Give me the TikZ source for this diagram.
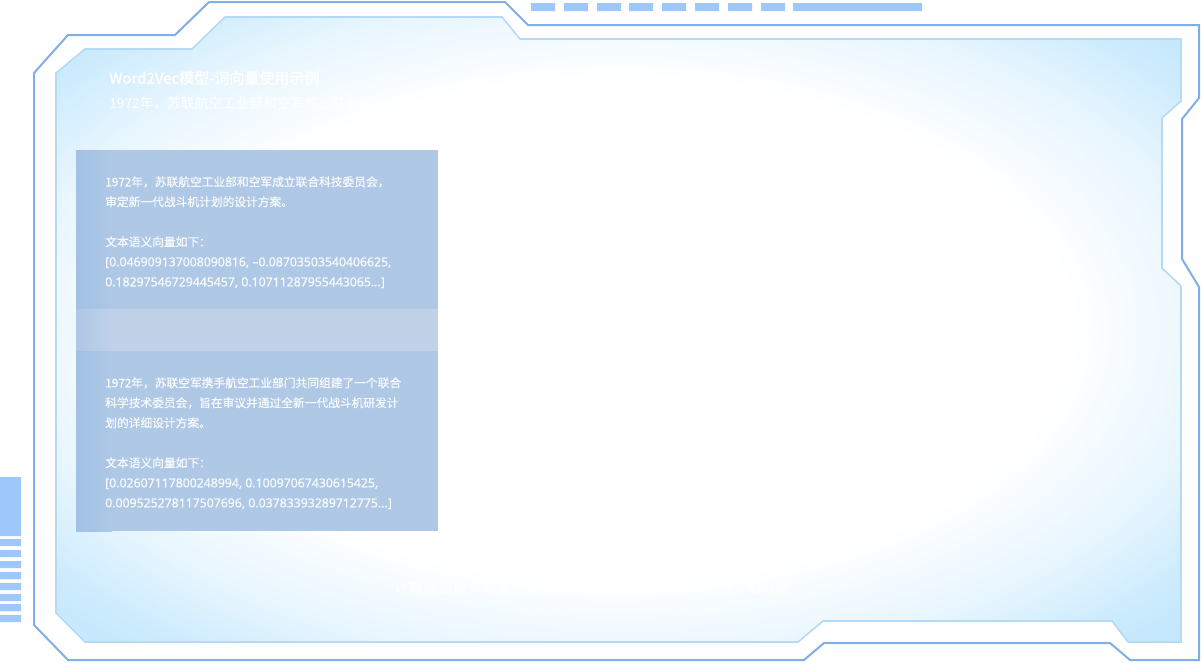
\documentclass[tikz,border=0pt]{standalone}
\usepackage{fontspec}
\setmainfont{Noto Sans CJK SC}
\newfontfamily\titlefont[FakeBold=1.2]{Noto Sans CJK SC}
\newfontfamily\boxfont[FakeBold=0.4]{Noto Sans CJK SC}
\newfontfamily\numfont[FakeBold=0.4]{Noto Sans}
\definecolor{framecol}{HTML}{80AEE6}
\definecolor{panelblue}{HTML}{C2E7FD}
\definecolor{panelline}{HTML}{B5DAF8}
\definecolor{barblue}{HTML}{9EC8FC}
\definecolor{boxblue}{HTML}{AEC8E6}
\definecolor{boxedge}{HTML}{A2C1E4}
\definecolor{bandblue}{HTML}{C0D1E8}
\pgfdeclareradialshading{panelglow}{\pgfpoint{0bp}{0bp}}{color(0bp)=(white); color(20bp)=(white); color(27bp)=(panelblue!40!white); color(32bp)=(panelblue!85!white); color(36bp)=(panelblue); color(50bp)=(panelblue)}

\begin{document}
\begin{tikzpicture}[x=0.75pt,y=-0.75pt]
	\tikzstyle{Frame} = [draw=framecol,line width=1.5pt]
	\tikzstyle{Panel} = [draw=panelline,line width=1.2pt,shading=panelglow]
	\tikzstyle{Bar} = [fill=barblue]
	\tikzstyle{PanelText} = [anchor=west,inner sep=0pt,text=white]
	\tikzstyle{BoxText} = [anchor=north west,inner sep=0pt,align=left,text=white,text opacity=0.9,font=\boxfont\fontsize{8.8}{15}\selectfont]
	\useasboundingbox (0,0) rectangle (1201,662);
	% outer frame
	\draw[Frame] (34,73)--(68,35)--(175,35)--(209,2)--(505,2)--(528,25)--(1199,25)--(1199,98)--(1182,119)--(1182,259)--(1199,287)--(1199,660)--(1130,660)--(1110,643)--(824,643)--(804,660)--(68,660)--(34,625)--cycle;
	% glowing panel
	\shadedraw[Panel] (56,73)--(85,49)--(192,49)--(225,17)--(502,17)--(520,39)--(1181,39)--(1181,101)--(1162,118)--(1162,268)--(1181,286)--(1181,642)--(1128,642)--(1112,621)--(823,621)--(798,642)--(85,642)--(56,613)--cycle;
	% top dashes and side bars
	\fill[Bar] (531,3) rectangle (555,11) (564,3) rectangle (588,11) (597,3) rectangle (621,11) (629,3) rectangle (653,11) (662,3) rectangle (686,11) (695,3) rectangle (719,11) (728,3) rectangle (752,11) (761,3) rectangle (785,11) (793,3) rectangle (922,11);
	\fill[Bar] (0,477) rectangle (21,536) (0,539) rectangle (21,546) (0,550) rectangle (21,557) (0,561) rectangle (21,568) (0,572) rectangle (21,579) (0,583) rectangle (21,590) (0,594) rectangle (21,601) (0,604) rectangle (21,611) (0,615) rectangle (21,622);
	% text boxes
	\fill[boxblue] (76,150) rectangle (438,309);
	\fill[bandblue] (76,309) rectangle (438,351);
	\fill[boxblue] (76,351) rectangle (438,531);
	\shade[left color=boxedge,right color=boxblue] (76,150) rectangle (112,309);
	\shade[left color=boxedge!60!bandblue,right color=bandblue] (76,309) rectangle (112,351);
	\shade[left color=boxedge,right color=boxblue] (76,351) rectangle (112,531);
	\draw (109,78) node[PanelText,font=\titlefont\fontsize{11.25}{13}\selectfont] (title) {Word2Vec模型-词向量使用示例};
	\draw (109,103) node[PanelText,font=\fontsize{10.3}{12}\selectfont] (sentence) {1972年，苏联航空工业部和空军成立联合科技委员会，审定新一代战斗机计划的设计方案。};
	\draw (105,176) node[BoxText] (firstvec) {1972年，苏联航空工业部和空军成立联合科技委员会，\\审定新一代战斗机计划的设计方案。\\[15pt]文本语义向量如下：\\{\numfont\fontsize{9.2}{15}\selectfont [0.046909137008090816, –0.08703503540406625,}\\{\numfont\fontsize{9.2}{15}\selectfont 0.18297546729445457, 0.10711287955443065...]}};
	\draw (105,377) node[BoxText] (secondvec) {1972年，苏联空军携手航空工业部门共同组建了一个联合\\科学技术委员会，旨在审议并通过全新一代战斗机研发计\\划的详细设计方案。\\[15pt]文本语义向量如下：\\{\numfont\fontsize{9.2}{15}\selectfont [0.02607117800248994, 0.10097067430615425,}\\{\numfont\fontsize{9.2}{15}\selectfont 0.009525278117507696, 0.03783393289712775...]}};
	\draw (592,588) node[text=white,inner sep=0pt,font=\fontsize{11}{13}\selectfont] (similarity) {计算两组语义向量的余弦相似度，得到两个文本的语义相似度};
\end{tikzpicture}
\end{document}
